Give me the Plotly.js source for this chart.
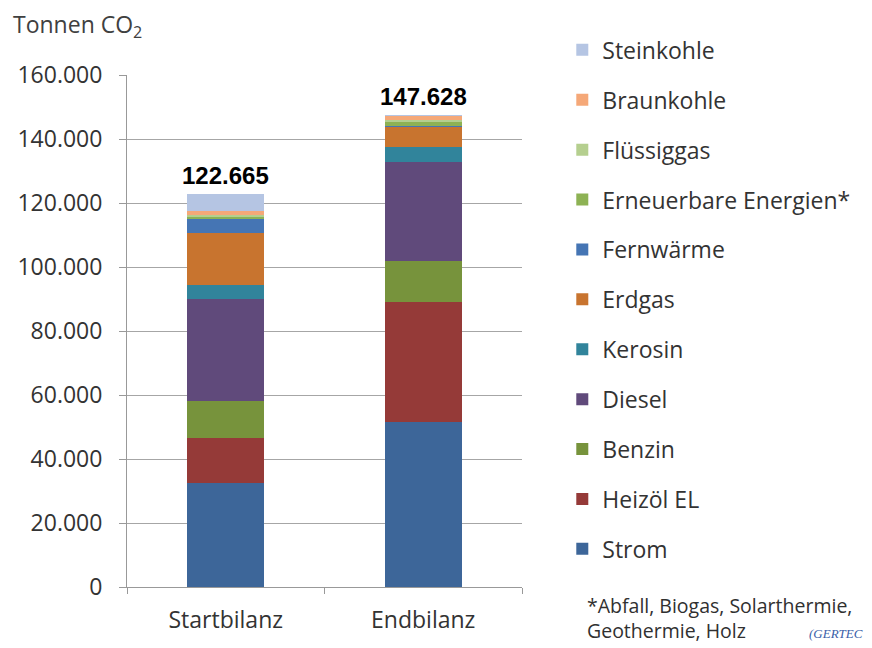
<!DOCTYPE html>
<html>
<head>
<meta charset="utf-8">
<script src="https://cdn.plot.ly/plotly-3.0.1.min.js"></script>
<style>html,body{margin:0;padding:0;background:#fff;}#chart{width:872px;height:648px;}</style>
</head>
<body>
<div id="chart"></div>
<script>
const categories = ["Startbilanz", "Endbilanz"];
const seriesNames = ["Strom", "Heizöl EL", "Benzin", "Diesel", "Kerosin", "Erdgas", "Fernwärme", "Erneuerbare Energien*", "Flüssiggas", "Braunkohle", "Steinkohle"];
const strom = [32400, 51500];
const heizoel = [14100, 37700];
const benzin = [11700, 12700];
const diesel = [31700, 31000];
const kerosin = [4500, 4500];
const erdgas = [16300, 6500];
const fernwaerme = [4200, 300];
const erneuerbare = [800, 1000];
const fluessiggas = [500, 600];
const braunkohle = [1400, 1500];
const steinkohle = [5065, 328];
const totalLabels = ["122.665", "147.628"];

const seriesValues = [strom, heizoel, benzin, diesel, kerosin, erdgas, fernwaerme, erneuerbare, fluessiggas, braunkohle, steinkohle];
const colors = ["#3D6699", "#953A38", "#77933C", "#604A7B", "#31849B", "#C8742F", "#4575B4", "#8DB254", "#B5CF8F", "#F5A878", "#B5C5E3"];

const traces = seriesNames.map((name, i) => ({
  type: "bar",
  name: name,
  x: categories,
  y: seriesValues[i],
  legendgroup: "g" + i,
  legendrank: 100 - i,
  marker: {color: colors[i], line: {width: 0}},
  hoverinfo: "skip"
}));

const totals = categories.map((c, j) => seriesValues.reduce((s, arr) => s + arr[j], 0));

const font = "Open Sans, Liberation Sans, Arial, sans-serif";

const annotations = categories.map((c, j) => ({
  x: c, y: totals[j], xref: "x", yref: "y",
  text: totalLabels[j], showarrow: false,
  yanchor: "bottom", yshift: 3,
  font: {family: "Liberation Sans, Arial, sans-serif", size: 24, color: "#000", weight: "bold"}
}));
annotations.push({
  xref: "paper", yref: "paper", x: -0.294, y: 1.135, xanchor: "left", yanchor: "top",
  text: "Tonnen CO<sub>2</sub>", showarrow: false,
  font: {family: font, size: 23, color: "#404040"}
});
annotations.push({
  xref: "paper", yref: "paper", x: 1.16, y: -0.005, xanchor: "left", yanchor: "top", align: "left",
  text: "*Abfall, Biogas, Solarthermie,<br>Geothermie, Holz", showarrow: false,
  font: {family: font, size: 19.5, color: "#303030"}
});
annotations.push({
  xref: "paper", yref: "paper", x: 1.722, y: -0.11, xanchor: "left", yanchor: "bottom",
  text: "<i>(GERTEC</i>", showarrow: false,
  font: {family: "Liberation Serif, serif", size: 13, color: "#3a5ea8"}
});

const layout = {
  width: 872, height: 648,
  margin: {l: 127, r: 350, t: 75, b: 61},
  paper_bgcolor: "#fff", plot_bgcolor: "#fff",
  separators: ",.",
  barmode: "stack",
  bargap: 0.61,
  font: {family: font, color: "#404040", size: 24},
  showlegend: true,
  legend: {
    x: 1.102, y: 1.091, xanchor: "left", yanchor: "top",
    traceorder: "grouped", tracegroupgap: 17, maxheight: 1000,
    font: {family: font, size: 23, color: "#333"},
    bgcolor: "rgba(0,0,0,0)", itemwidth: 30
  },
  xaxis: {
    type: "category", showline: true, linecolor: "#999", linewidth: 1,
    ticks: "outside", tickson: "boundaries", ticklen: 6, tickcolor: "#999",
    showgrid: false, tickfont: {family: font, size: 23, color: "#333"},
    ticklabelstandoff: 12,
    fixedrange: true
  },
  yaxis: {
    range: [0, 160000], dtick: 20000, tickformat: ",d",
    showline: true, linecolor: "#999", linewidth: 1,
    ticks: "outside", ticklen: 7, tickcolor: "#999",
    showgrid: true, gridcolor: "#a6a6a6", gridwidth: 1,
    zeroline: false, ticklabelstandoff: 12,
    tickfont: {family: font, size: 23, color: "#333"},
    fixedrange: true
  },
  annotations: annotations
};

Plotly.newPlot("chart", traces, layout, {displayModeBar: false, staticPlot: true});
</script>
</body>
</html>
